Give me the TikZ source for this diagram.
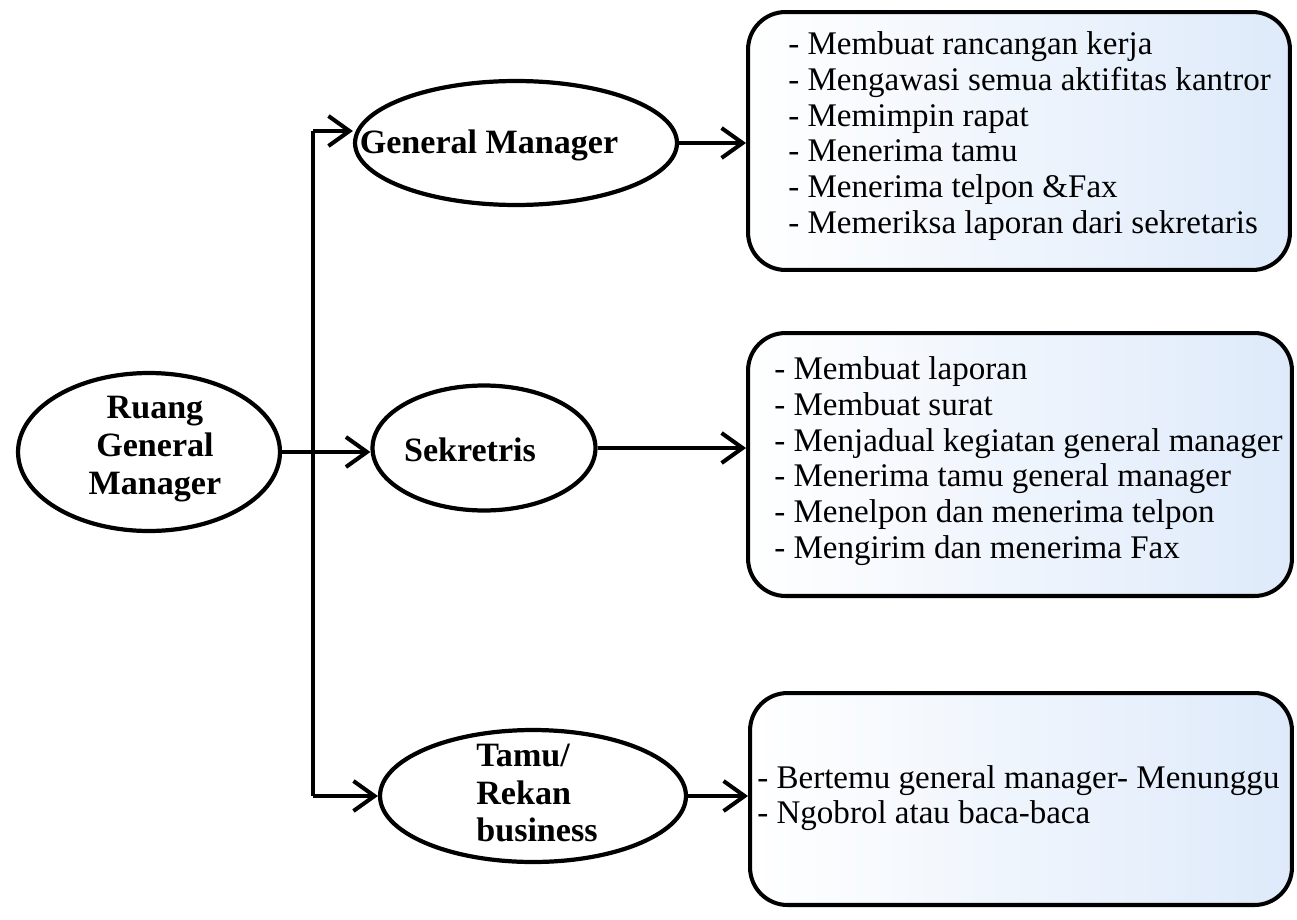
\documentclass[tikz,border=0pt]{standalone}
\usepackage{fontspec}
\setmainfont{Liberation Serif}
\usetikzlibrary{shapes.geometric,arrows.meta}
\definecolor{boxblue}{RGB}{222,234,250}
\tikzset{
  oval/.style={draw=black, ellipse, line width=2.4pt, inner sep=0pt},
  ovaltext/.style={font=\fontsize{19.4}{21.5}\selectfont\bfseries, align=left, inner sep=0pt},
  taskbox/.style={draw=black, rectangle, rounded corners=0.75cm, line width=2.3pt, inner sep=0pt,
                  left color=white, right color=boxblue},
  tasktext/.style={font=\fontsize{18.8}{20.3}\selectfont, align=left, anchor=west, inner sep=0pt},
  link/.style={line width=2.3pt, -{Straight Barb[length=0.42cm,width=0.6cm]}},
  trunk/.style={line width=2.3pt}
}
\begin{document}
\begin{tikzpicture}[x=0.02cm,y=-0.02cm]
\useasboundingbox (0,0) rectangle (1297,919);
% ellipses
\node[oval, minimum width=5.24cm, minimum height=3.16cm] (ruang) at (149,452) {};
\node[ovaltext, align=center] (ruangt) at (155,449) {Ruang\\General\\Manager};
\node[oval, minimum width=6.44cm, minimum height=2.48cm] (gm) at (516,143) {};
\node[ovaltext] (gmt) at (489,145) {General Manager};
\node[oval, minimum width=4.46cm, minimum height=2.5cm] (sek) at (484,448) {};
\node[ovaltext] (sekt) at (470,450) {Sekretris};
\node[oval, minimum width=6.12cm, minimum height=2.64cm] (tamu) at (533,796) {};
\node[ovaltext, anchor=west] (tamut) at (476,793) {Tamu/\\Rekan\\business};
% boxes
\node[taskbox, minimum width=10.84cm, minimum height=5.16cm] (b1) at (1019,141) {};
\node[taskbox, minimum width=10.88cm, minimum height=5.26cm] (b2) at (1020,464.5) {};
\node[taskbox, minimum width=10.84cm, minimum height=4.24cm] (b3) at (1021,799) {};
\node[tasktext] (b1t) at (788,136) {- Membuat rancangan kerja\\- Mengawasi semua aktifitas kantror\\- Memimpin rapat\\- Menerima tamu\\- Menerima telpon \&Fax\\- Memeriksa laporan dari sekretaris};
\node[tasktext] (b2t) at (774,461) {- Membuat laporan\\- Membuat surat\\- Menjadual kegiatan general manager\\- Menerima tamu general manager\\- Menelpon dan menerima telpon\\- Mengirim dan menerima Fax};
\node[tasktext] (b3t) at (757,798) {- Bertemu general manager- Menunggu\\- Ngobrol atau baca-baca};
% connectors
\coordinate (vx) at (313,0);
\coordinate (tt) at (313,131);
\coordinate (tb) at (tamu.west -| vx);
\draw[trunk] (tt) -- (tb);
\draw[link] (tt) -- (tt -| gm.west);
\draw[link] (tb) -- (tamu.west);
\draw[link] (ruang.east) -- (ruang.east -| sek.west);
\draw[link] (gm.east) -- (gm.east -| b1.west);
\draw[link] (sek.east) -- (sek.east -| b2.west);
\draw[link] (tamu.east) -- (tamu.east -| b3.west);
\end{tikzpicture}
\end{document}
